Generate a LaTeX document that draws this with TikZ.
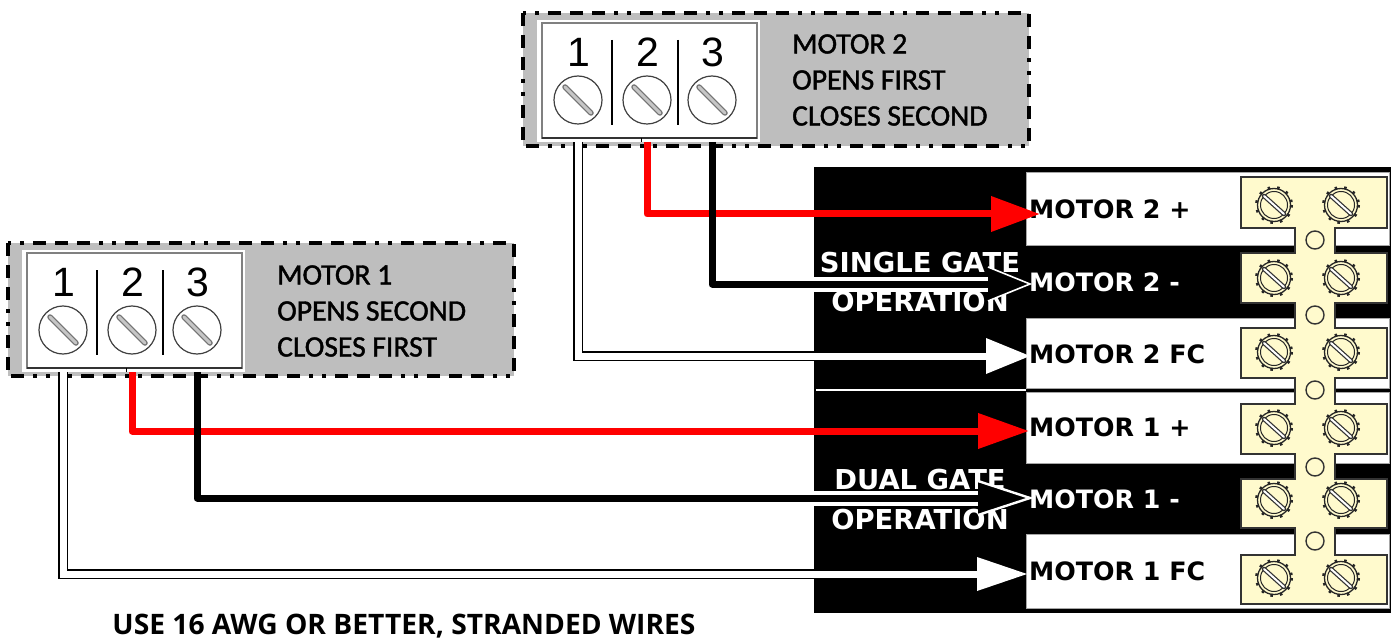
\documentclass[tikz,border=0pt]{standalone}
\usepackage{fontspec}
\setmainfont{Liberation Sans}
\newfontfamily\boxfont{Carlito}[FakeBold=1.4]
\newfontfamily\rowfont{DejaVu Sans}
\newfontfamily\notefont{Open Sans}
\usetikzlibrary{arrows.meta,calc}
\definecolor{boxgray}{HTML}{BEBEBE}
\definecolor{tabyellow}{HTML}{FFFACD}
\tikzset{
  boxtext/.style={anchor=west,align=left,inner sep=0pt,font=\boxfont\fontsize{29.6}{36}\selectfont},
  rowtext/.style={anchor=west,inner sep=0pt,font=\rowfont\bfseries\fontsize{25.3}{30}\selectfont},
  gatetext/.style={inner sep=0pt,text=white,font=\rowfont\bfseries\fontsize{27.4}{30}\selectfont},
  numtext/.style={inner sep=0pt,font=\fontsize{41}{44}\selectfont},
  redwire/.style={draw=red,line width=7pt,line join=round},
  blackwire/.style={draw=black,line width=7pt,line join=round},
  casing/.style={draw=white,line width=15pt},
  whitewire/.style={draw=black,line width=1.6pt,double=white,double distance=7pt},
  rowbox/.style={fill=white,draw=gray!70,line width=1pt},
  termblock/.pic={
    \draw[fill=boxgray,line width=3.5pt,dash pattern=on 13pt off 9pt on 13pt off 9pt on 13pt off 9pt on 4pt off 9pt on 4pt off 9pt] (0,0) rectangle (506,133);
    \fill[white] (14,7) rectangle (237,129);
    \draw[gray,line width=2.2pt] (19,10) rectangle (234,125);
    \draw[black!80,line width=1.5pt] (19,125) -- (234,125);
    \draw[black,line width=1pt] (118,125) -- (118,129);
    \foreach \n/\x in {1/55,2/124,3/189}{
      \node[numtext] (n\n) at (\x+1,39) {\n};
      \draw[black!75,line width=1.2pt] (\x,87) circle (24);
      \draw[black!55,line width=5.5pt,line cap=round] (\x-13,74) -- (\x+13,100);
      \draw[gray!45,line width=3pt,line cap=round] (\x-13,74) -- (\x+13,100);
      \coordinate (t\n) at (\x,129);
    }
    \draw[black,line width=1.3pt] (89,27) -- (89,112) (155,27) -- (155,112);
  },
  screw/.pic={
    \draw[black!85,line width=3pt,dash pattern=on 2.5pt off 7pt] (0,0) circle (17.5);
    \draw[black!85,line width=1.3pt] (0,0) circle (16.5);
    \draw[black!85,line width=1pt] (0,0) circle (13.5);
    \draw[black!80,line width=4.5pt,line cap=round] (-10,-9) -- (10,9);
    \draw[white,line width=2pt,line cap=round] (-10,-9) -- (10,9);
  },
  pinhole/.pic={
    \draw[black!80,line width=1.4pt] (0,0) circle (9);
  }
}
\begin{document}
\begin{tikzpicture}[x=1pt,y=-1pt]
\useasboundingbox (0,0) rectangle (1395,639);
% terminal blocks
\pic (mb) at (523,13) {termblock};
\pic (ma) at (8,243) {termblock};
\node[boxtext] (mbtext) at (792,80) {MOTOR 2\\OPENS FIRST\\CLOSES SECOND};
\node[boxtext] (matext) at (277,311) {MOTOR 1\\OPENS SECOND\\CLOSES FIRST};
% panel
\fill[black] (814,167) rectangle (1391,613);
\draw[rowbox] (1026,173) rectangle (1389,246);
\draw[rowbox] (1026,318) rectangle (1389,388);
\draw[rowbox] (1026,392) rectangle (1389,463);
\draw[rowbox] (1026,534) rectangle (1389,608);
\draw[white,line width=2.5pt] (816,390) -- (1026,390);
% terminal strip
\draw[fill=tabyellow,draw=black!80,line width=1.5pt] (1295,226) rectangle (1335,557);
\foreach \a/\b in {177/228,253/303,328/378,404/454,479/528,555/604}
  \draw[fill=tabyellow,draw=black!80,line width=1.5pt] (1241,\a) rectangle (1387,\b);
\fill[tabyellow] (1296,226) rectangle (1334,557);
\foreach \y in {205,278,352,428,500,578}{
  \pic at (1274,\y) {screw};
  \pic at (1341,\y) {screw};
}
\foreach \y in {240,315,390,467,541}
  \pic at (1315,\y) {pinhole};
% labels
\node[rowtext] (rbp) at (1029,209) {MOTOR 2 +};
\node[rowtext,text=white] (rbn) at (1029,282) {MOTOR 2 -};
\node[rowtext] (rbf) at (1029,354) {MOTOR 2 FC};
\node[rowtext] (rap) at (1029,427) {MOTOR 1 +};
\node[rowtext,text=white] (ran) at (1029,499) {MOTOR 1 -};
\node[rowtext] (raf) at (1029,571) {MOTOR 1 FC};
\node[gatetext] (gs) at (920,263) {SINGLE GATE};
\node[gatetext] (os) at (920,302) {OPERATION};
\node[gatetext] (gd) at (920,480) {DUAL GATE};
\node[gatetext] (od) at (920,520) {OPERATION};
\node[inner sep=0pt,font=\notefont\bfseries\fontsize{28.2}{32}\selectfont] (note) at (404,626) {USE 16 AWG OR BETTER, STRANDED WIRES};
% wire tips
\coordinate (tbp) at (1040,214);
\coordinate (tbn) at (1030,284);
\coordinate (tbf) at (1030,356);
\coordinate (tap) at (1029,431);
\coordinate (tan) at (1030,498);
\coordinate (taf) at (1027,574);
% motor 2 wires
\draw[whitewire,shorten >=42pt] (mbt1) |- (tbf);
\fill[white] (tbf) -- ++(-44,-18) -- ++(0,36) -- cycle;
\draw[redwire,-{Triangle[length=49pt,width=34pt]}] (mbt2) |- (tbp);
\draw[casing] (814,284) -- (988,284);
\draw[blackwire,shorten >=42pt] (mbt3) |- (tbn);
\fill[black] (tbn) -- ++(-42,-17) -- ++(0,34) -- cycle;
\draw[white,line width=1.6pt] ($(tbn)+(-42,-17)$) -- (tbn) -- ($(tbn)+(-42,17)$);
% motor 1 wires
\draw[whitewire,shorten >=42pt] (mat1) |- (taf);
\fill[white] (taf) -- ++(-50,-17) -- ++(0,34) -- cycle;
\draw[redwire,-{Triangle[length=51pt,width=34pt]}] (mat2) |- (tap);
\draw[casing] (814,498) -- (978,498);
\draw[blackwire,shorten >=50pt] (mat3) |- (tan);
\fill[black] (tan) -- ++(-52,-17) -- ++(0,34) -- cycle;
\draw[white,line width=2.4pt] ($(tan)+(-52,-17)$) -- (tan) -- ($(tan)+(-52,17)$);
\end{tikzpicture}
\end{document}
